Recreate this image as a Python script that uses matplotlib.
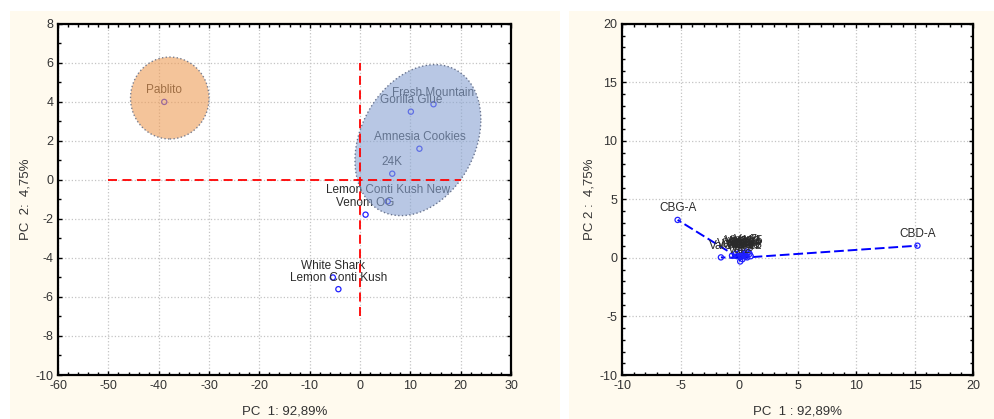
import numpy as np
import matplotlib
matplotlib.use('Agg')
import matplotlib.pyplot as plt
from matplotlib.patches import Rectangle, Ellipse, Polygon
from matplotlib.ticker import MultipleLocator

plt.rcParams['font.family'] = ['Liberation Sans', 'DejaVu Sans']
plt.rcParams['axes.unicode_minus'] = False

# scores plot (samples)
sample_names = ['Pablito', 'Fresh Mountain', 'Gorilla Glue', 'Amnesia Cookies', '24K',
                'Lemon Conti Kush New', 'Venom OG', 'White Shark', 'Lemon Conti Kush']
sample_pc1 = [-38.9, 14.6, 10.1, 11.8, 6.4, 5.5, 1.1, -5.4, -4.3]
sample_pc2 = [4.0, 3.88, 3.5, 1.6, 0.32, -1.1, -1.78, -5.0, -5.6]

# loadings plot (variables)
var_names = ['CBD-A', 'CBG-A', 'Var1', 'Var2', 'Var3', 'Var4', 'Var5', 'Var6',
             'Var7', 'Var8', 'Var9', 'Var10', 'Var11', 'Var12', 'Var13', 'Var14',
             'Var15', 'Var16', 'Var17', 'Var18']
var_pc1 = [15.25, -5.25, -1.55, 0.1, 0.45, 0.9, 0.2, -0.3, 0.6, 1.0, 0.3, -0.6,
           0.05, 0.7, 0.5, -0.15, 0.8, 0.35, 0.15, 0.55]
var_pc2 = [1.05, 3.25, 0.05, -0.3, 0.25, 0.35, 0.1, 0.35, 0.55, 0.15, -0.1, 0.2,
           0.45, 0.05, 0.4, 0.15, 0.5, 0.3, 0.2, 0.1]

txt = '#333333'
cream = '#fffaee'

fig = plt.figure(figsize=(9.94, 4.19), dpi=100)
fig.patch.set_facecolor('white')
fig.patches.append(Rectangle((0.0101, 0), 0.5533, 0.974, transform=fig.transFigure,
                             facecolor=cream, edgecolor='none', zorder=-10))
fig.patches.append(Rectangle((0.5724, 0), 0.4276, 0.974, transform=fig.transFigure,
                             facecolor=cream, edgecolor='none', zorder=-10))

ax1 = fig.add_axes([0.0584, 0.105, 0.4557, 0.838])
ax2 = fig.add_axes([0.6258, 0.105, 0.3531, 0.838])


def style_axes(ax, xlim, ylim, xstep, ystep, xminor, yminor):
    ax.set_xlim(*xlim)
    ax.set_ylim(*ylim)
    ax.xaxis.set_major_locator(MultipleLocator(xstep))
    ax.yaxis.set_major_locator(MultipleLocator(ystep))
    ax.xaxis.set_minor_locator(MultipleLocator(xminor))
    ax.yaxis.set_minor_locator(MultipleLocator(yminor))
    ax.tick_params(which='both', direction='in', top=True, right=True,
                   labelsize=9, labelcolor=txt, color='black')
    ax.tick_params(which='major', length=3, width=1)
    ax.tick_params(which='minor', length=2, width=1)
    for s in ax.spines.values():
        s.set_linewidth(1.6)
    ax.grid(True, which='major', linestyle=':', color='#c4c4c4', linewidth=0.9)
    ax.set_axisbelow(True)
    ax.set_facecolor('white')


style_axes(ax1, (-60, 30), (-10, 8), 10, 2, 2, 1)
style_axes(ax2, (-10, 20), (-10, 20), 5, 5, 1, 1)

# left: samples
ax1.scatter(sample_pc1, sample_pc2, s=14, facecolors='none', edgecolors='#2020ff',
            linewidths=0.9, zorder=2)
for n, x, y in zip(sample_names, sample_pc1, sample_pc2):
    ax1.annotate(n, (x, y), xytext=(0, 4), textcoords='offset points', ha='center',
                 va='bottom', fontsize=8.5, color='#2a2a2a', zorder=2)

ax1.add_patch(Ellipse((-37.8, 4.2), 15.6, 4.2, facecolor='#ee9d57', alpha=0.6,
                      edgecolor='none', zorder=3))
ax1.add_patch(Ellipse((-37.8, 4.2), 15.6, 4.2, facecolor='none', edgecolor='#7a7f90',
                      linestyle=':', linewidth=1.0, zorder=3))

# tilted cluster ellipse
cx, cy, sx, sy, rho = 11.5, 2.04, 12.5, 3.87, 0.27
t = np.linspace(0, 2 * np.pi, 200)
ex = cx + sx * np.cos(t)
ey = cy + sy * (rho * np.cos(t) + np.sqrt(1 - rho ** 2) * np.sin(t))
pts = np.column_stack([ex, ey])
ax1.add_patch(Polygon(pts, closed=True, facecolor='#89a3d2', alpha=0.6, edgecolor='none', zorder=3))
ax1.add_patch(Polygon(pts, closed=True, facecolor='none', edgecolor='#6a7590',
                      linestyle=':', linewidth=1.0, zorder=3))

ax1.plot([-50, 20], [0, 0], color='#ff0000', linestyle='--', dashes=(5, 3), linewidth=1.3, zorder=4)
ax1.plot([0, 0], [-7, 6], color='#ff0000', linestyle='--', dashes=(5, 3), linewidth=1.3, zorder=4)

ax1.set_xlabel('PC  1: 92,89%', fontsize=9.5, color=txt, labelpad=10)
ax1.set_ylabel('PC  2:  4,75%', fontsize=9.5, color=txt, labelpad=3)

# right: loadings
for n, x, y in zip(var_names, var_pc1, var_pc2):
    ax2.plot([0, x], [0, y], color='#0000ff', linestyle='--', dashes=(5, 2),
             linewidth=1.4, zorder=2)
ax2.scatter(var_pc1, var_pc2, s=14, facecolors='none', edgecolors='#2020ff',
            linewidths=0.9, zorder=3)
for n, x, y in zip(var_names, var_pc1, var_pc2):
    ax2.annotate(n, (x, y), xytext=(0, 4), textcoords='offset points', ha='center',
                 va='bottom', fontsize=8.5, color='#2a2a2a', zorder=4)

ax2.set_xlabel('PC  1 : 92,89%', fontsize=9.5, color=txt, labelpad=10)
ax2.set_ylabel('PC 2 :  4,75%', fontsize=9.5, color=txt, labelpad=3)

fig.savefig('out.png', dpi=100)
